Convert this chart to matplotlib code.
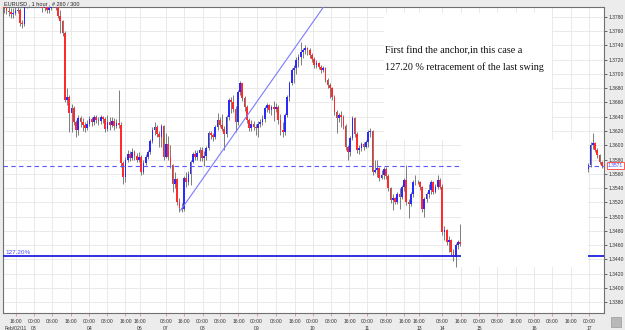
import numpy as np
import matplotlib.pyplot as plt
from matplotlib.patches import Rectangle

# EURUSD 1 hour candles (bar index = hour slot)
first_open = 1.3795
closes = [1.3792, 1.3789, 1.3787, 1.3784, 1.3786, 1.3789, 1.3790, 1.3772, 1.3770, 1.3795,
          1.3801, 1.3805, 1.3808, 1.3804, 1.3806, 1.3803, 1.3799, 1.3792, 1.3796, 1.3790,
          1.3793, 1.3797, 1.3801, 1.3796, 1.3782, 1.3775, 1.3758, 1.3663, 1.3668, 1.3645,
          1.3652, 1.3632, 1.3621, 1.3638, 1.3633, 1.3628, 1.3624, 1.3630, 1.3637, 1.3632,
          1.3640, 1.3636, 1.3634, 1.3639, 1.3637, 1.3623, 1.3632, 1.3628, 1.3634, 1.3627,
          1.3631, 1.3628, 1.3575, 1.3556, 1.3580, 1.3588, 1.3582, 1.3591, 1.3585, 1.3580,
          1.3584, 1.3562, 1.3575, 1.3584, 1.3590, 1.3606, 1.3621, 1.3625, 1.3616, 1.3612,
          1.3627, 1.3584, 1.3602, 1.3584, 1.3572, 1.3546, 1.3552, 1.3520, 1.3512, 1.3510,
          1.3554, 1.3548, 1.3560, 1.3577, 1.3588, 1.3583, 1.3589, 1.3594, 1.3582, 1.3585,
          1.3596, 1.3617, 1.3614, 1.3611, 1.3626, 1.3636, 1.3629, 1.3623, 1.3616, 1.3640,
          1.3663, 1.3660, 1.3651, 1.3632, 1.3675, 1.3687, 1.3666, 1.3654, 1.3635, 1.3624,
          1.3630, 1.3626, 1.3624, 1.3630, 1.3633, 1.3637, 1.3652, 1.3656, 1.3650, 1.3654,
          1.3651, 1.3654, 1.3635, 1.3622, 1.3618, 1.3642, 1.3668, 1.3687, 1.3705, 1.3709,
          1.3720, 1.3724, 1.3731, 1.3734, 1.3736, 1.3733, 1.3726, 1.3721, 1.3712, 1.3715,
          1.3710, 1.3706, 1.3708, 1.3692, 1.3684, 1.3680, 1.3668, 1.3647, 1.3638, 1.3642,
          1.3640, 1.3627, 1.3597, 1.3590, 1.3610, 1.3638, 1.3616, 1.3593, 1.3596, 1.3602,
          1.3598, 1.3604, 1.3618, 1.3620, 1.3562, 1.3565, 1.3568, 1.3554, 1.3558, 1.3567,
          1.3557, 1.3540, 1.3523, 1.3526, 1.3521, 1.3531, 1.3528, 1.3541, 1.3551, 1.3520,
          1.3518, 1.3531, 1.3548, 1.3549, 1.3548, 1.3541, 1.3510, 1.3524, 1.3531, 1.3537,
          1.3548, 1.3535, 1.3541, 1.3551, 1.3542, 1.3478, 1.3481, 1.3464, 1.3467, 1.3450,
          1.3443, 1.3460, 1.3464, 1.3462]
highs = [1.3799, 1.3796, 1.3794, 1.3792, 1.3793, 1.3795, 1.3797, 1.3792, 1.3776, 1.3802,
         1.3808, 1.3810, 1.3814, 1.3812, 1.3811, 1.3809, 1.3806, 1.3801, 1.3800, 1.3798,
         1.3799, 1.3803, 1.3806, 1.3804, 1.3798, 1.3790, 1.3776, 1.3760, 1.3680, 1.3670,
         1.3658, 1.3655, 1.3636, 1.3642, 1.3641, 1.3638, 1.3632, 1.3636, 1.3641, 1.3640,
         1.3643, 1.3643, 1.3639, 1.3643, 1.3641, 1.3639, 1.3642, 1.3640, 1.3639, 1.3638,
         1.3637, 1.3678, 1.3632, 1.3578, 1.3583, 1.3594, 1.3592, 1.3596, 1.3594, 1.3589,
         1.3590, 1.3586, 1.3579, 1.3588, 1.3594, 1.3609, 1.3625, 1.3632, 1.3628, 1.3620,
         1.3630, 1.3628, 1.3617, 1.3613, 1.3600, 1.3574, 1.3563, 1.3554, 1.3526, 1.3519,
         1.3557, 1.3562, 1.3564, 1.3580, 1.3591, 1.3593, 1.3593, 1.3597, 1.3597, 1.3592,
         1.3599, 1.3620, 1.3620, 1.3617, 1.3629, 1.3645, 1.3640, 1.3644, 1.3627, 1.3643,
         1.3667, 1.3668, 1.3671, 1.3655, 1.3678, 1.3690, 1.3688, 1.3669, 1.3657, 1.3638,
         1.3635, 1.3634, 1.3630, 1.3634, 1.3637, 1.3643, 1.3655, 1.3659, 1.3658, 1.3657,
         1.3662, 1.3659, 1.3657, 1.3644, 1.3632, 1.3645, 1.3671, 1.3690, 1.3708, 1.3713,
         1.3724, 1.3728, 1.3745, 1.3737, 1.3740, 1.3738, 1.3736, 1.3730, 1.3724, 1.3719,
         1.3717, 1.3713, 1.3711, 1.3710, 1.3694, 1.3687, 1.3682, 1.3670, 1.3650, 1.3645,
         1.3648, 1.3643, 1.3630, 1.3600, 1.3613, 1.3641, 1.3640, 1.3619, 1.3601, 1.3605,
         1.3604, 1.3607, 1.3621, 1.3624, 1.3622, 1.3580, 1.3579, 1.3570, 1.3565, 1.3570,
         1.3569, 1.3559, 1.3542, 1.3531, 1.3528, 1.3534, 1.3540, 1.3544, 1.3554, 1.3572,
         1.3524, 1.3534, 1.3551, 1.3558, 1.3551, 1.3550, 1.3543, 1.3527, 1.3534, 1.3545,
         1.3551, 1.3550, 1.3546, 1.3558, 1.3554, 1.3545, 1.3487, 1.3483, 1.3472, 1.3469,
         1.3454, 1.3463, 1.3467, 1.3490]
lows = [1.3786, 1.3784, 1.3781, 1.3778, 1.3779, 1.3783, 1.3785, 1.3768, 1.3765, 1.3768,
        1.3793, 1.3798, 1.3800, 1.3799, 1.3800, 1.3797, 1.3795, 1.3787, 1.3789, 1.3785,
        1.3786, 1.3790, 1.3795, 1.3790, 1.3778, 1.3758, 1.3754, 1.3660, 1.3656, 1.3618,
        1.3619, 1.3628, 1.3611, 1.3615, 1.3626, 1.3620, 1.3619, 1.3622, 1.3627, 1.3627,
        1.3629, 1.3631, 1.3628, 1.3630, 1.3631, 1.3618, 1.3620, 1.3622, 1.3625, 1.3622,
        1.3624, 1.3624, 1.3570, 1.3545, 1.3548, 1.3577, 1.3578, 1.3579, 1.3580, 1.3576,
        1.3577, 1.3558, 1.3560, 1.3572, 1.3581, 1.3588, 1.3603, 1.3615, 1.3612, 1.3597,
        1.3598, 1.3580, 1.3582, 1.3580, 1.3568, 1.3534, 1.3540, 1.3516, 1.3506, 1.3507,
        1.3508, 1.3542, 1.3544, 1.3544, 1.3575, 1.3579, 1.3580, 1.3578, 1.3578, 1.3571,
        1.3580, 1.3594, 1.3609, 1.3606, 1.3609, 1.3622, 1.3625, 1.3620, 1.3593, 1.3612,
        1.3636, 1.3645, 1.3646, 1.3618, 1.3628, 1.3670, 1.3662, 1.3648, 1.3631, 1.3620,
        1.3620, 1.3621, 1.3615, 1.3611, 1.3625, 1.3628, 1.3632, 1.3646, 1.3645, 1.3643,
        1.3634, 1.3646, 1.3630, 1.3615, 1.3611, 1.3615, 1.3640, 1.3662, 1.3684, 1.3688,
        1.3700, 1.3710, 1.3713, 1.3722, 1.3728, 1.3727, 1.3722, 1.3717, 1.3708, 1.3708,
        1.3707, 1.3702, 1.3703, 1.3689, 1.3680, 1.3667, 1.3664, 1.3643, 1.3617, 1.3633,
        1.3626, 1.3623, 1.3594, 1.3580, 1.3585, 1.3607, 1.3612, 1.3589, 1.3588, 1.3592,
        1.3594, 1.3596, 1.3598, 1.3612, 1.3558, 1.3561, 1.3556, 1.3550, 1.3552, 1.3553,
        1.3553, 1.3536, 1.3519, 1.3509, 1.3517, 1.3518, 1.3510, 1.3525, 1.3536, 1.3516,
        1.3498, 1.3515, 1.3528, 1.3544, 1.3545, 1.3537, 1.3506, 1.3500, 1.3520, 1.3526,
        1.3531, 1.3531, 1.3533, 1.3538, 1.3538, 1.3474, 1.3467, 1.3460, 1.3450, 1.3446,
        1.3438, 1.3429, 1.3455, 1.3458]

# bars after the covered part (Feb 17)
late_first_open = 1.3566
late_closes = [1.3572, 1.3600, 1.3603, 1.3594, 1.3586, 1.3576, 1.3571]
late_highs = [1.3575, 1.3604, 1.3617, 1.3605, 1.3596, 1.3588, 1.3578]
late_lows = [1.3563, 1.3570, 1.3595, 1.3590, 1.3582, 1.3573, 1.3568]
late_start = 260

last_price = 1.3571
fib_level = 1.3444
fib_label = '127.20%'
trend_start = (78.6, 1.3509)
trend_end = (143.5, 1.3800)

price_ticks = [1.3380, 1.3400, 1.3420, 1.3440, 1.3460, 1.3480, 1.3500, 1.3520, 1.3540,
               1.3560, 1.3580, 1.3600, 1.3620, 1.3640, 1.3660, 1.3680, 1.3700, 1.3720,
               1.3740, 1.3760, 1.3780]
time_ticks = [5.3, 13.3, 21.5, 29.8, 38.0, 46.0, 54.0, 60.4, 72.0, 80.0, 88.3, 96.3,
              104.3, 112.4, 121.0, 129.3, 137.3, 145.5, 153.7, 161.7, 170.0, 178.2,
              184.8, 195.1, 203.5, 211.5, 219.5, 228.0, 236.0, 244.0, 252.4, 260.4]
time_labels = ['16:00\nFeb/02/11', '00:00\n03', '08:00', '16:00', '00:00\n04', '08:00',
               '16:00', '16:00\n06', '08:00\n07', '16:00', '00:00\n08', '08:00', '16:00',
               '00:00\n09', '08:00', '16:00', '00:00\n10', '08:00', '16:00', '00:00\n11',
               '08:00', '16:00', '16:00\n13', '08:00\n14', '16:00', '00:00\n15', '08:00',
               '16:00', '00:00\n16', '08:00', '16:00', '00:00\n17']

note_lines = ['First find the anchor,in this case a',
              '127.20 % retracement of the last swing']

up_color = '#2a2aff'
down_color = '#ff2a2a'
wick_color = '#7c7c7c'
small_font = 'Liberation Sans'

fig = plt.figure(figsize=(6.25, 3.3), dpi=100, facecolor='#ececec')
ax = fig.add_axes([3/625, 1 - 313/330, 601/625, 306/330])
ax.set_facecolor('white')


def draw_candles(x, opens, highs_, lows_, closes_):
    x = np.asarray(x)
    o = np.asarray(opens)
    c = np.asarray(closes_)
    ax.vlines(x, lows_, highs_, color=wick_color, lw=0.7, zorder=2)
    bottom = np.minimum(o, c)
    height = np.maximum(np.abs(c - o), 0.00004)
    cols = [up_color if cc >= oo else down_color for oo, cc in zip(o, c)]
    ax.bar(x, height, bottom=bottom, width=0.75, color=cols, linewidth=0, zorder=3)


opens = [first_open] + closes[:-1]
draw_candles(range(len(closes)), opens, highs, lows, closes)
late_opens = [late_first_open] + late_closes[:-1]
draw_candles(range(late_start, late_start + len(late_closes)), late_opens,
             late_highs, late_lows, late_closes)

# lines
ax.axhline(last_price, color='#5a5aff', lw=0.8, ls=(0, (4, 3)), zorder=4)
ax.axhline(fib_level, color='#2020e0', lw=1.3, zorder=4)
ax.plot([trend_start[0], trend_end[0]], [trend_start[1], trend_end[1]],
        color='#7a7aff', lw=0.8, zorder=4)
ax.text(0.5, fib_level + 0.00035, fib_label, fontsize=4.6, family=small_font,
        color='#5050ff', zorder=6)

# white areas hiding the grid (annotation box)
ax.add_patch(Rectangle((169.3, 1.36073), 74.6, 0.01783, facecolor='white',
                       edgecolor='none', zorder=5))
ax.add_patch(Rectangle((203.3, 1.34289), 56.4, 0.01784, facecolor='white',
                       edgecolor='none', zorder=5))

ax.text(169.6, 1.37323, note_lines[0], fontsize=7.3, family='Liberation Serif',
        va='center', ha='left', color='#111111', zorder=6)
ax.text(169.6, 1.37098, note_lines[1], fontsize=7.3, family='Liberation Serif',
        va='center', ha='left', color='#111111', zorder=6)

ax.set_xlim(-0.5, 267)
ax.set_ylim(1.33646, 1.37940)

ax.yaxis.tick_right()
ax.set_yticks(price_ticks)
ax.set_yticklabels(['%.4f' % p for p in price_ticks], family=small_font)
ax.set_xticks(time_ticks)
ax.set_xticklabels(time_labels, family=small_font, linespacing=1.5)
ax.tick_params(axis='both', labelsize=3.6, colors='#333333', length=2, width=0.5, pad=1.2)
ax.tick_params(axis='x', color='#d08080', pad=2)
ax.grid(True, color='#e6e6e6', lw=0.6, zorder=0)
ax.set_axisbelow(True)
for s in ax.spines.values():
    s.set_color('#707070')
    s.set_linewidth(0.8)

# last price box on the axis
ax.text(1.006, (last_price - 1.33646) / (1.37940 - 1.33646), '%.4f' % last_price,
        transform=ax.transAxes, fontsize=3.6, family=small_font, color='#4040ff',
        va='center', ha='left',
        bbox=dict(boxstyle='square,pad=0.2', fc='white', ec='#ff4040', lw=0.6),
        zorder=7, clip_on=False)

fig.text(4/625, 1 - 3.5/330, 'EURUSD , 1 hour , # 260 / 300', fontsize=4.0,
         family=small_font, color='#222222', va='center', ha='left')
fig.add_artist(Rectangle((611/625, 1 - 327/330), 10/625, 10/330, transform=fig.transFigure,
                         facecolor='#b8b8b8', edgecolor='#999999', lw=0.5))

fig.savefig('out.png', dpi=100, facecolor=fig.get_facecolor())
